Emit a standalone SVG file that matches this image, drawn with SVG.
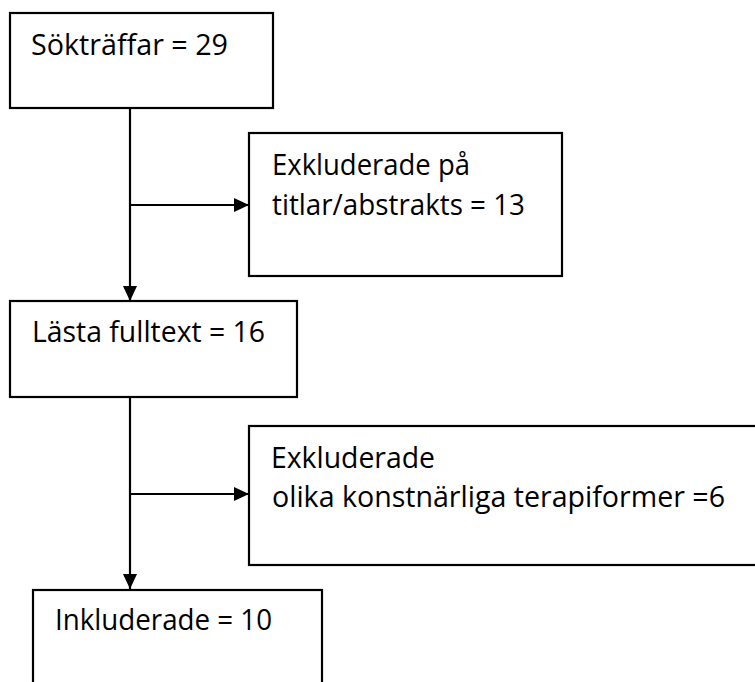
<svg xmlns="http://www.w3.org/2000/svg" width="755" height="682" viewBox="0 0 755 682">
<style>
.box{fill:#fff;stroke:#000;stroke-width:2.2}
.t{font-family:"Open Sans","Noto Sans","Liberation Sans",sans-serif;font-size:28.5px;fill:#000}
.c{fill:none;stroke:#000;stroke-width:2.2}
</style>
<defs>
<marker id="ah" markerWidth="16" markerHeight="14" refX="15" refY="7" orient="auto" markerUnits="userSpaceOnUse">
<path d="M0,0 L15,7 L0,14 Z" fill="#000"/>
</marker>
</defs>
<rect width="755" height="682" fill="#fff"/>
<g id="connectors">
<line class="c" x1="130" y1="108" x2="130" y2="301" marker-end="url(#ah)"/>
<line class="c" x1="130" y1="205" x2="249" y2="205" marker-end="url(#ah)"/>
<line class="c" x1="130" y1="397" x2="130" y2="589" marker-end="url(#ah)"/>
<line class="c" x1="130" y1="494" x2="249" y2="494" marker-end="url(#ah)"/>
</g>
<g id="n1">
<rect class="box" x="10" y="13" width="263" height="95"/>
<text class="t" x="31" y="55" textLength="197" lengthAdjust="spacingAndGlyphs">Sökträffar = 29</text>
</g>
<g id="n2">
<rect class="box" x="249" y="133" width="313" height="143"/>
<text class="t" x="272" y="175" textLength="198" lengthAdjust="spacingAndGlyphs">Exkluderade på</text>
<text class="t" x="272" y="215" textLength="253" lengthAdjust="spacingAndGlyphs">titlar/abstrakts = 13</text>
</g>
<g id="n3">
<rect class="box" x="10" y="301" width="287" height="96"/>
<text class="t" x="32" y="342" textLength="233" lengthAdjust="spacingAndGlyphs">Lästa fulltext = 16</text>
</g>
<g id="n4">
<rect class="box" x="249" y="426" width="520" height="139"/>
<text class="t" x="271" y="468" textLength="164" lengthAdjust="spacingAndGlyphs">Exkluderade</text>
<text class="t" x="272" y="507" textLength="453" lengthAdjust="spacingAndGlyphs">olika konstnärliga terapiformer =6</text>
</g>
<g id="n5">
<rect class="box" x="33" y="590" width="289" height="110"/>
<text class="t" x="55" y="630" textLength="217" lengthAdjust="spacingAndGlyphs">Inkluderade = 10</text>
</g>
</svg>
